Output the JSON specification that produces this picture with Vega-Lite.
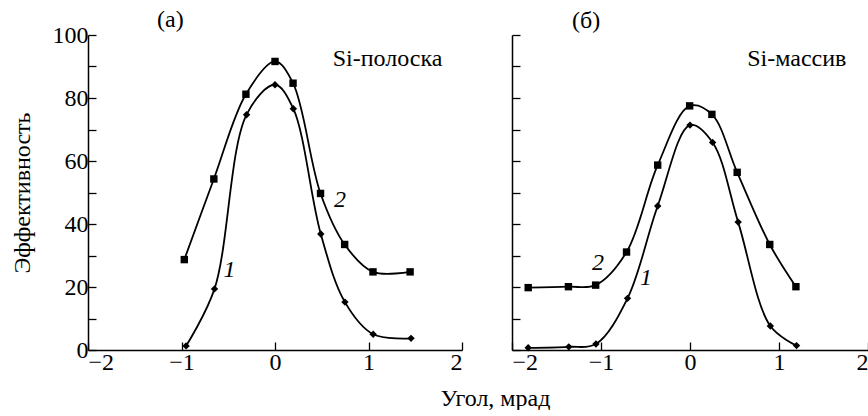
{
  "$schema": "https://vega.github.io/schema/vega-lite/v6.json",
  "padding": {"left": 10, "top": 8, "right": 0, "bottom": 0},
  "bounds": "flush",
  "spacing": 50,
  "config": {
    "font": "Liberation Serif, Times New Roman, DejaVu Serif, serif",
    "view": {"stroke": null},
    "axis": {
      "grid": false,
      "domainColor": "#000",
      "domainWidth": 1.5,
      "tickColor": "#000",
      "tickWidth": 1.3,
      "labelColor": "#000",
      "labelFont": "Liberation Serif, Times New Roman, DejaVu Serif, serif",
      "labelFontSize": 24,
      "titleFont": "Liberation Serif, Times New Roman, DejaVu Serif, serif",
      "titleFontWeight": "normal",
      "titleColor": "#000000"
    },
    "text": {"font": "Liberation Serif, Times New Roman, DejaVu Serif, serif"},
    "title": {"font": "Liberation Serif, Times New Roman, DejaVu Serif, serif", "fontSize": 24, "fontWeight": "normal", "color": "#000"}
  },
  "datasets": {
    "pts": [
      {"panel": "a", "curve": "2", "x": -0.97, "y": 28.7},
      {"panel": "a", "curve": "2", "x": -0.654, "y": 54.3},
      {"panel": "a", "curve": "2", "x": -0.311, "y": 81.2},
      {"panel": "a", "curve": "2", "x": 0.0, "y": 91.6},
      {"panel": "a", "curve": "2", "x": 0.193, "y": 84.7},
      {"panel": "a", "curve": "2", "x": 0.487, "y": 49.7},
      {"panel": "a", "curve": "2", "x": 0.745, "y": 33.5},
      {"panel": "a", "curve": "2", "x": 1.048, "y": 24.8},
      {"panel": "a", "curve": "2", "x": 1.445, "y": 24.8},
      {"panel": "a", "curve": "1", "x": -0.951, "y": 1.3},
      {"panel": "a", "curve": "1", "x": -0.647, "y": 19.4},
      {"panel": "a", "curve": "1", "x": -0.304, "y": 74.7},
      {"panel": "a", "curve": "1", "x": 0.0, "y": 84.2},
      {"panel": "a", "curve": "1", "x": 0.196, "y": 76.6},
      {"panel": "a", "curve": "1", "x": 0.49, "y": 36.8},
      {"panel": "a", "curve": "1", "x": 0.748, "y": 15.2},
      {"panel": "a", "curve": "1", "x": 1.05, "y": 5.0},
      {"panel": "a", "curve": "1", "x": 1.455, "y": 3.7},
      {"panel": "b", "curve": "2", "x": -1.818, "y": 19.8},
      {"panel": "b", "curve": "2", "x": -1.366, "y": 20.1},
      {"panel": "b", "curve": "2", "x": -1.06, "y": 20.6},
      {"panel": "b", "curve": "2", "x": -0.713, "y": 31.1},
      {"panel": "b", "curve": "2", "x": -0.363, "y": 58.7},
      {"panel": "b", "curve": "2", "x": -0.004, "y": 77.5},
      {"panel": "b", "curve": "2", "x": 0.246, "y": 74.8},
      {"panel": "b", "curve": "2", "x": 0.53, "y": 56.4},
      {"panel": "b", "curve": "2", "x": 0.896, "y": 33.5},
      {"panel": "b", "curve": "2", "x": 1.19, "y": 20.1},
      {"panel": "b", "curve": "1", "x": -1.818, "y": 0.7},
      {"panel": "b", "curve": "1", "x": -1.362, "y": 1.0},
      {"panel": "b", "curve": "1", "x": -1.057, "y": 1.9},
      {"panel": "b", "curve": "1", "x": -0.702, "y": 16.4},
      {"panel": "b", "curve": "1", "x": -0.363, "y": 45.7},
      {"panel": "b", "curve": "1", "x": 0.0, "y": 71.4},
      {"panel": "b", "curve": "1", "x": 0.254, "y": 65.9},
      {"panel": "b", "curve": "1", "x": 0.541, "y": 40.6},
      {"panel": "b", "curve": "1", "x": 0.903, "y": 7.6},
      {"panel": "b", "curve": "1", "x": 1.197, "y": 1.4}
    ],
    "nums": [
      {"panel": "a", "x": 0.694, "y": 47.7, "t": "2"},
      {"panel": "a", "x": -0.486, "y": 25.4, "t": "1"},
      {"panel": "b", "x": -1.035, "y": 27.5, "t": "2"},
      {"panel": "b", "x": -0.493, "y": 22.7, "t": "1"}
    ],
    "names": [
      {"panel": "a", "x": 1.204, "y": 92.5, "t": "Si-полоска"},
      {"panel": "b", "x": 1.2, "y": 92.5, "t": "Si-массив"}
    ]
  },
  "hconcat": [
    {
      "width": 374,
      "height": 315,
      "title": {"text": "(a)", "anchor": "start", "frame": "group", "dx": 69, "offset": -9},
      "layer": [
        {
          "mark": {"type": "rule", "color": "#000", "strokeWidth": 1.2},
          "encoding": {"x": {"datum": 0, "type": "quantitative"}}
        },
        {
          "data": {"name": "pts"},
          "transform": [{"filter": "datum.panel === 'a'"}],
          "mark": {"type": "line", "interpolate": "catmull-rom", "color": "#000", "strokeWidth": 1.8},
          "encoding": {
            "x": {"field": "x", "type": "quantitative"},
            "y": {"field": "y", "type": "quantitative"},
            "detail": {"field": "curve"}
          }
        },
        {
          "data": {"name": "pts"},
          "transform": [{"filter": "datum.panel === 'a'"}],
          "mark": {"type": "point", "filled": true, "color": "#000", "opacity": 1},
          "encoding": {
            "x": {"field": "x", "type": "quantitative"},
            "y": {"field": "y", "type": "quantitative"},
            "shape": {"field": "curve", "type": "nominal", "scale": {"domain": ["1", "2"], "range": ["diamond", "square"]}, "legend": null},
            "size": {"field": "curve", "type": "nominal", "scale": {"domain": ["1", "2"], "range": [55, 55]}, "legend": null}
          }
        },
        {
          "data": {"name": "nums"},
          "transform": [{"filter": "datum.panel === 'a'"}],
          "mark": {"type": "text", "fontStyle": "italic", "fontSize": 24, "color": "#000"},
          "encoding": {
            "x": {"field": "x", "type": "quantitative"},
            "y": {"field": "y", "type": "quantitative"},
            "text": {"field": "t"}
          }
        },
        {
          "data": {"name": "names"},
          "transform": [{"filter": "datum.panel === 'a'"}],
          "mark": {"type": "text", "fontSize": 24, "color": "#000"},
          "encoding": {
            "x": {"field": "x", "type": "quantitative"},
            "y": {"field": "y", "type": "quantitative"},
            "text": {"field": "t"}
          }
        }
      ],
      "encoding": {
        "x": {"type": "quantitative", "scale": {"domain": [-2, 2], "nice": false, "zero": false},
          "axis": {"values": [-2, -1, 0, 1, 2], "tickSize": -8, "labelPadding": 8, "title": "Угол, мрад", "titleFontSize": 24, "titleColor": "#000000", "titleX": 407, "titleY": 36, "titleBaseline": "top", "titleAlign": "center"}},
        "y": {"type": "quantitative", "scale": {"domain": [0, 100], "nice": false},
          "axis": {"values": [0, 10, 20, 30, 40, 50, 60, 70, 80, 90, 100], "labelExpr": "datum.value % 20 === 0 ? datum.label : ''", "tickSize": -8, "labelPadding": 8, "title": "Эффективность", "titleColor": "#000000", "titleFontSize": 24, "titlePadding": 18}}
      }
    },
    {
      "width": 356,
      "height": 315,
      "title": {"text": "(б)", "anchor": "start", "frame": "group", "dx": 60, "offset": 1},
      "layer": [
        {
          "mark": {"type": "rule", "color": "#000", "strokeWidth": 1.2},
          "encoding": {"x": {"datum": 0, "type": "quantitative"}}
        },
        {
          "data": {"name": "pts"},
          "transform": [{"filter": "datum.panel === 'b'"}],
          "mark": {"type": "line", "interpolate": "catmull-rom", "color": "#000", "strokeWidth": 1.8},
          "encoding": {
            "x": {"field": "x", "type": "quantitative"},
            "y": {"field": "y", "type": "quantitative"},
            "detail": {"field": "curve"}
          }
        },
        {
          "data": {"name": "pts"},
          "transform": [{"filter": "datum.panel === 'b'"}],
          "mark": {"type": "point", "filled": true, "color": "#000", "opacity": 1},
          "encoding": {
            "x": {"field": "x", "type": "quantitative"},
            "y": {"field": "y", "type": "quantitative"},
            "shape": {"field": "curve", "type": "nominal", "scale": {"domain": ["1", "2"], "range": ["diamond", "square"]}, "legend": null},
            "size": {"field": "curve", "type": "nominal", "scale": {"domain": ["1", "2"], "range": [55, 55]}, "legend": null}
          }
        },
        {
          "data": {"name": "nums"},
          "transform": [{"filter": "datum.panel === 'b'"}],
          "mark": {"type": "text", "fontStyle": "italic", "fontSize": 24, "color": "#000"},
          "encoding": {
            "x": {"field": "x", "type": "quantitative"},
            "y": {"field": "y", "type": "quantitative"},
            "text": {"field": "t"}
          }
        },
        {
          "data": {"name": "names"},
          "transform": [{"filter": "datum.panel === 'b'"}],
          "mark": {"type": "text", "fontSize": 24, "color": "#000"},
          "encoding": {
            "x": {"field": "x", "type": "quantitative"},
            "y": {"field": "y", "type": "quantitative"},
            "text": {"field": "t"}
          }
        }
      ],
      "encoding": {
        "x": {"type": "quantitative", "scale": {"domain": [-2, 2], "nice": false, "zero": false},
          "axis": {"values": [-2, -1, 0, 1, 2], "tickSize": -8, "labelPadding": 8, "title": null}},
        "y": {"type": "quantitative", "scale": {"domain": [0, 100], "nice": false},
          "axis": {"values": [0, 10, 20, 30, 40, 50, 60, 70, 80, 90, 100], "labels": false, "tickSize": -8, "title": null}}
      }
    }
  ]
}
